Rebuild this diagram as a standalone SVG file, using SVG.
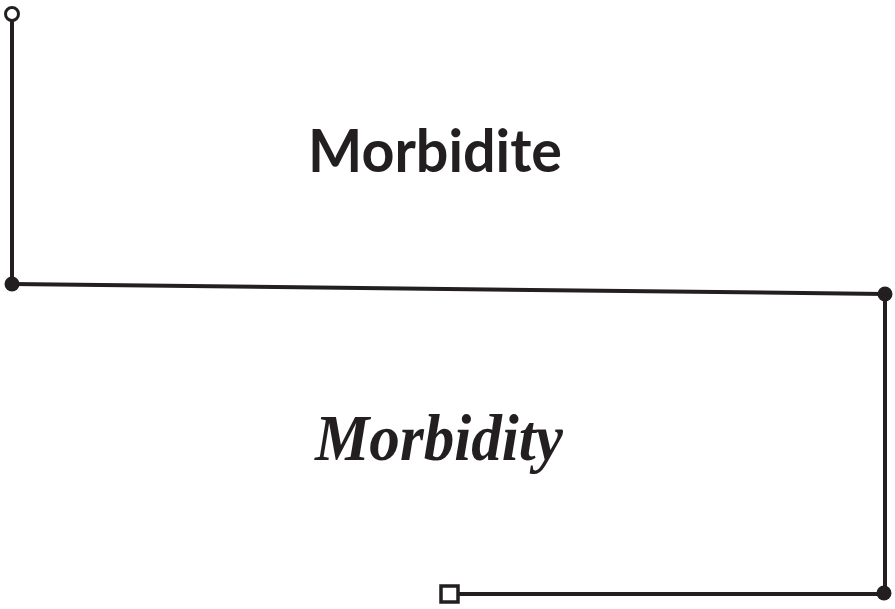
<svg xmlns="http://www.w3.org/2000/svg" width="895" height="609" viewBox="0 0 895 609">
<style>
.ln{stroke:#231f20;stroke-width:4;fill:none}
.dot{fill:#231f20}
.t1{font-family:Lato,"Open Sans",sans-serif;font-weight:bold;font-size:59px;fill:#231f20}
.t2{font-family:"Liberation Serif","Times New Roman",serif;font-weight:bold;font-style:italic;font-size:66px;fill:#231f20}
</style>
<rect width="895" height="609" fill="#fff"/>
<g id="connectors">
<line class="ln" x1="12" y1="20" x2="12" y2="284"/>
<line class="ln" x1="12" y1="284" x2="885" y2="294"/>
<line class="ln" x1="885" y1="294" x2="885" y2="593"/>
<line class="ln" x1="459" y1="594" x2="884" y2="594"/>
</g>
<g id="start"><circle cx="12" cy="14" r="6.5" fill="#fff" stroke="#231f20" stroke-width="3"/></g>
<g id="p1"><circle class="dot" cx="12" cy="284" r="7.5"/></g>
<g id="p2"><circle class="dot" cx="885" cy="294" r="7.5"/></g>
<g id="p3"><circle class="dot" cx="884" cy="593" r="7.5"/></g>
<g id="end"><rect x="441" y="586" width="17" height="16" fill="#fff" stroke="#231f20" stroke-width="3.5"/></g>
<g id="label1"><text class="t1" x="308" y="172" textLength="254" lengthAdjust="spacingAndGlyphs">Morbidite</text></g>
<g id="label2"><text class="t2" x="315" y="460" textLength="248" lengthAdjust="spacingAndGlyphs">Morbidity</text></g>
</svg>
